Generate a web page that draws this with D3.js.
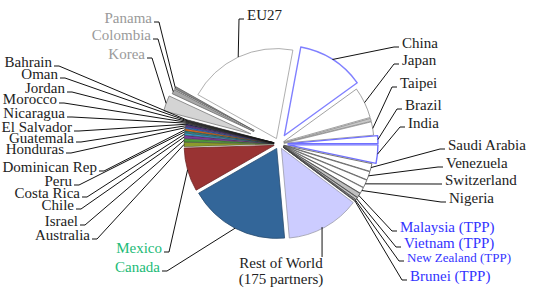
<!DOCTYPE html>
<html>
<head>
<meta charset="utf-8">
<script src="https://cdn.jsdelivr.net/npm/d3@7"></script>
<style>
  body { margin: 0; background: #fff; }
  text { font-family: "Liberation Serif", "Times New Roman", serif; }
</style>
</head>
<body>
<div id="chart"></div>
<script>
// partners, clockwise from EU27 (share of trade, %)
const partners = ["EU27", "China", "Japan", "", "Taipei", "Brazil", "India",
  "Saudi Arabia", "Venezuela", "Switzerland", "Nigeria",
  "Malaysia (TPP)", "Vietnam (TPP)", "New Zealand (TPP)", "Brunei (TPP)",
  "Rest of World", "Canada", "Mexico",
  "Australia", "Israel", "Chile", "Costa Rica", "Peru", "Dominican Rep", "Honduras",
  "Guatemala", "El Salvador", "Nicaragua", "Morocco", "Jordan", "Oman", "Bahrain",
  "Korea", "Colombia", "Panama"];
const shares = [19.8, 12.1, 5.6, 0.55, 2.4, 1.4, 3.3,
  1.4, 1.5, 1.4, 1.1,
  0.85, 0.45, 0.2, 0.1,
  13.3, 18.1, 7.8,
  0.8, 0.6, 0.55, 0.4, 0.36, 0.36, 0.33,
  0.3, 0.22, 0.17, 0.14, 0.14, 0.11, 0.11,
  2.8, 0.8, 0.4];
const groups = ["eu", "bric", "other", "other", "other", "bric", "bric",
  "other", "other", "other", "other",
  "tpp", "tpp", "tpp", "tpp",
  "rest", "nafta", "nafta",
  "fta", "fta", "fta", "fta", "fta", "fta", "fta",
  "fta", "fta", "fta", "fta", "fta", "fta", "fta",
  "pending", "pending", "pending"];
const restLines = ["Rest of World", "(175 partners)"];

const width = 560, height = 290;
const cx = 279, cy = 144, R = 90;

const svg = d3.select("#chart").append("svg")
  .attr("width", width)
  .attr("height", height);

// slice look
const sliceStyle = {
  "EU27": ["#fff", "#9a9a9a"],
  "China": ["#fff", "#8080ff"],
  "Japan": ["#fff", "#8a8a8a"],
  "": ["#c8c8c8", "#8a8a8a"],
  "Taipei": ["#fff", "#8a8a8a"],
  "Brazil": ["#fff", "#7070ff"],
  "India": ["#fff", "#7070ff"],
  "Rest of World": ["#ccccff", "#9a9aaa"],
  "Canada": ["#336699", "#2a4d70"],
  "Mexico": ["#993333", "#6e2525"],
  "Australia": ["#8c9a2c", "#222"],
  "Israel": ["#4f9a3a", "#222"],
  "Chile": ["#7a3a9a", "#222"],
  "Costa Rica": ["#3399cc", "#222"],
  "Peru": ["#2a8a8a", "#222"],
  "Dominican Rep": ["#e07020", "#222"],
  "Honduras": ["#3366cc", "#222"],
  "Guatemala": ["#6a3a9a", "#222"],
  "El Salvador": ["#2a2a6a", "#222"],
  "Korea": ["#d4d4d4", "#7a7a7a"],
  "Colombia": ["#a8a8a8", "#6a6a6a"],
  "Panama": ["#8a8a8a", "#5a5a5a"]
};
const groupStyle = {
  other: ["#fff", "#555"], tpp: ["#c0c0c0", "#444"], fta: ["#333", "#1a1a1a"]
};
const pulled = { "EU27": 6, "China": 10, "Brazil": 9, "India": 9, "Korea": 30, "Colombia": 28, "Panama": 28 };
const explode = name => pulled[name] !== undefined ? pulled[name] : 5;

const labelColor = { tpp: "#3333ff", nafta: "#22bb77", pending: "#9a9a9a" };

const table = partners.map((p, i) => ({ name: p, value: shares[i], group: groups[i] }));

const start = -60.8 * Math.PI / 180;
const pie = d3.pie().sort(null).value(d => d.value)
  .startAngle(start).endAngle(start + 2 * Math.PI);
const arcs = pie(table);
const arc = d3.arc().innerRadius(0).outerRadius(R);

const mid = d => (d.startAngle + d.endAngle) / 2;
const offset = d => {
  const e = explode(d.data.name), a = mid(d);
  return [e * Math.sin(a), -e * Math.cos(a)];
};
// outer edge point at the slice's middle
const anchorPt = d => {
  const r = R + explode(d.data.name), a = mid(d);
  return [cx + r * Math.sin(a), cy - r * Math.cos(a)];
};

const slices = svg.append("g").attr("transform", `translate(${cx},${cy})`);
slices.selectAll("path").data(arcs).enter().append("path")
  .attr("transform", d => `translate(${offset(d)})`)
  .attr("d", arc)
  .attr("fill", d => (sliceStyle[d.data.name] || groupStyle[d.data.group])[0])
  .attr("stroke", d => (sliceStyle[d.data.name] || groupStyle[d.data.group])[1])
  .attr("stroke-width", d => d.data.group === "bric" ? 1.4 : d.data.group === "fta" ? 0.4 : 0.8)
  .attr("stroke-linejoin", "round");

// label placement: [x, baseline, side]
const labelPos = {
  "Bahrain": [52, 67, "l"], "Oman": [58, 79, "l"], "Jordan": [65, 93, "l"],
  "Morocco": [57, 104, "l"], "Nicaragua": [65, 118, "l"], "El Salvador": [72, 132, "l"],
  "Guatemala": [74, 143, "l"], "Honduras": [64, 154, "l"], "Dominican Rep": [97, 172, "l"],
  "Peru": [72, 186, "l"], "Costa Rica": [80, 198, "l"], "Chile": [74, 210, "l"],
  "Israel": [78, 226, "l"], "Australia": [90, 240, "l"],
  "Panama": [152, 23, "l"], "Colombia": [151, 40, "l"], "Korea": [145, 59, "l"],
  "Mexico": [162, 253, "l"], "Canada": [160, 272, "l"],
  "EU27": [247, 20, "r"], "China": [402, 48, "r"], "Japan": [402, 65, "r"],
  "Taipei": [400, 88, "r"], "Brazil": [405, 110, "r"], "India": [408, 128, "r"],
  "Saudi Arabia": [448, 150, "r"], "Venezuela": [446, 168, "r"],
  "Switzerland": [445, 185, "r"], "Nigeria": [449, 203, "r"],
  "Malaysia (TPP)": [400, 232, "r"], "Vietnam (TPP)": [404, 248, "r"],
  "New Zealand (TPP)": [407, 262, "r"], "Brunei (TPP)": [410, 281, "r"]
};

const labels = svg.append("g");
const leaders = svg.append("g")
  .attr("fill", "none").attr("stroke", "#111").attr("stroke-width", 1);

arcs.forEach(d => {
  const name = d.data.name;
  const pt = anchorPt(d);
  if (name === "Rest of World") {
    const tx = 281;
    const t = labels.append("text")
      .attr("x", tx).attr("y", 268)
      .attr("text-anchor", "middle")
      .attr("font-size", 15).attr("fill", "#222");
    restLines.forEach((s, i) => t.append("tspan").attr("x", tx).attr("dy", i ? 16 : 0).text(s));
    leaders.append("path").attr("d", d3.line()([[pt[0] - 3, 257], [pt[0] - 3, pt[1]]]));
    return;
  }
  const pos = labelPos[name];
  if (!pos) return;
  const [x, y, side] = pos;
  labels.append("text")
    .attr("x", x).attr("y", y)
    .attr("text-anchor", side === "l" ? "end" : "start")
    .attr("font-size", name === "New Zealand (TPP)" ? 13 : 15)
    .attr("fill", labelColor[d.data.group] || "#222")
    .text(name);
  const sx = side === "l" ? x + 2 : x - 3;
  const hx = side === "l" ? sx + 5 : sx - 5;
  leaders.append("path")
    .attr("d", d3.line()([[sx, y - 1], [hx, y - 1], pt]));
});
</script>
</body>
</html>
